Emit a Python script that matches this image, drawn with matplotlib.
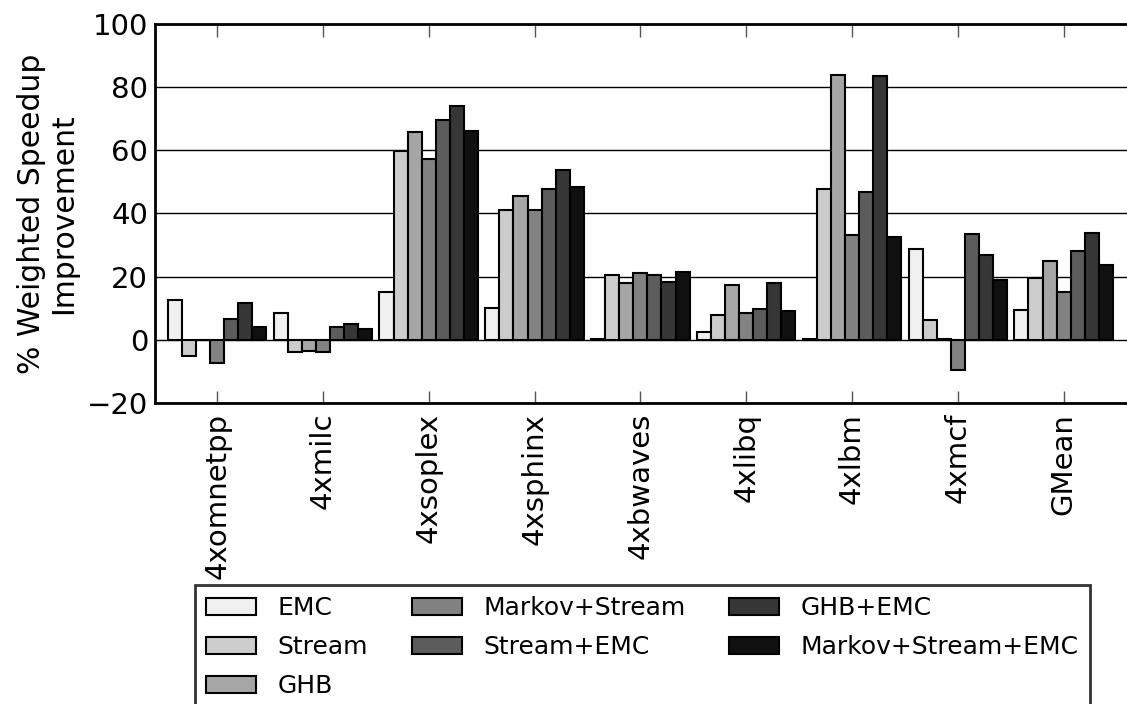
import numpy as np
import matplotlib
matplotlib.use("Agg")
import matplotlib.pyplot as plt

benchmarks = ["4xomnetpp", "4xmilc", "4xsoplex", "4xsphinx", "4xbwaves",
              "4xlibq", "4xlbm", "4xmcf", "GMean"]
series_names = ["EMC", "Stream", "GHB", "Markov+Stream", "Stream+EMC",
                "GHB+EMC", "Markov+Stream+EMC"]

emc = [12.6, 8.4, 15.3, 10.0, 0.2, 2.6, 0.2, 28.9, 9.6]
stream = [-5.2, -3.9, 59.8, 41.1, 20.4, 7.9, 47.6, 6.4, 19.6]
ghb = [0.1, -3.6, 65.7, 45.6, 18.1, 17.5, 83.7, 0.2, 24.9]
markov_stream = [-7.4, -3.9, 57.2, 41.1, 21.3, 8.5, 33.2, -9.5, 15.3]
stream_emc = [6.5, 4.0, 69.7, 47.7, 20.4, 9.7, 46.9, 33.6, 28.0]
ghb_emc = [11.6, 4.9, 74.1, 53.9, 18.2, 18.1, 83.6, 26.9, 33.7]
markov_stream_emc = [4.2, 3.3, 66.1, 48.4, 21.5, 9.1, 32.6, 18.8, 23.8]

series = [emc, stream, ghb, markov_stream, stream_emc, ghb_emc, markov_stream_emc]
colors = ["#f0f0f0", "#cccccc", "#a6a6a6", "#828282", "#5c5c5c", "#363636", "#101010"]

plt.rcParams["font.family"] = "DejaVu Sans"

fig = plt.figure(figsize=(11.27, 7.04), dpi=100)
ax = fig.add_axes([155 / 1127, 1 - 403 / 704, 1 - 155 / 1127 + 0.002, (403 - 24) / 704])

x = np.arange(len(benchmarks))
w = 0.133
for i, (vals, c, name) in enumerate(zip(series, colors, series_names)):
    ax.bar(x + (i - 3) * w, vals, w, color=c, edgecolor="black", linewidth=1.5,
           label=name, zorder=3)

ax.set_xlim(-0.587, 8.62)
ax.set_ylim(-20, 100)
ax.set_yticks(range(-20, 101, 20))
ax.yaxis.grid(True, color="black", linewidth=1.0, zorder=0)
ax.set_axisbelow(True)
ax.set_xticks(x)
ax.set_xticklabels(benchmarks, rotation=90, fontsize=21)
ax.tick_params(axis="y", labelsize=21, direction="in", length=0, pad=5)
ax.tick_params(axis="x", direction="in", length=9, width=1, color="#555555",
               top=True, pad=7)
for s in ax.spines.values():
    s.set_linewidth(2)

ax.set_ylabel("% Weighted Speedup\nImprovement", fontsize=21.5, labelpad=6,
              linespacing=1.15)

leg = fig.legend(loc="upper left", bbox_to_anchor=(195 / 1127, 1 - 585 / 704),
                 ncol=3, fontsize=18, frameon=True, fancybox=False,
                 handlelength=2.0, handleheight=0.7, handletextpad=0.85,
                 labelspacing=0.6, columnspacing=1.75, borderaxespad=0,
                 borderpad=0.45)
leg.get_frame().set_edgecolor("black")
leg.get_frame().set_linewidth(2)

fig.savefig("out.png", dpi=100)
